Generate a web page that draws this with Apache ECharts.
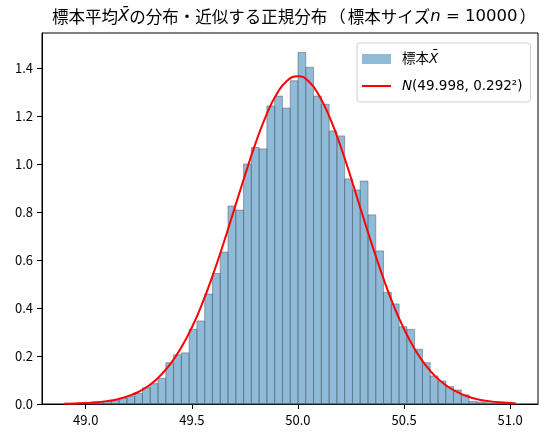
<!DOCTYPE html>
<html>
<head>
<meta charset="UTF-8">
<title>標本平均の分布</title>
<style>
  * { margin: 0; padding: 0; }
  body { background: #fff; }
  #chart { width: 546px; height: 437px; }
</style>
</head>
<body>
<div id="chart"></div>
<script src="https://cdn.jsdelivr.net/npm/echarts@6.0.0/dist/echarts.min.js"></script>
<script>
// ヒストグラム（58ビン、密度）
var binStart = 48.901;
var binWidth = 0.03664;
var density = [
  0.003, 0.003, 0.003, 0.005, 0.008, 0.011, 0.016, 0.025, 0.033, 0.044,
  0.068, 0.085, 0.107, 0.172, 0.205, 0.213, 0.311, 0.346, 0.458, 0.544,
  0.633, 0.825, 0.808, 1.000, 1.069, 1.063, 1.242, 1.283, 1.233, 1.347,
  1.465, 1.403, 1.283, 1.249, 1.138, 1.117, 0.938, 0.892, 0.929, 0.788,
  0.638, 0.465, 0.417, 0.322, 0.311, 0.228, 0.172, 0.117, 0.096, 0.072,
  0.058, 0.038, 0.011, 0.008, 0.005, 0.003, 0.003, 0.003
];

// 赤い曲線（図から読んだ点）
var curveX = [
  48.90, 48.95, 49.00, 49.05, 49.10, 49.15, 49.20, 49.25, 49.30, 49.35,
  49.40, 49.45, 49.50, 49.55, 49.60, 49.65, 49.70, 49.75, 49.80, 49.85,
  49.90, 49.95, 50.00, 50.05, 50.10, 50.15, 50.20, 50.25, 50.30, 50.35,
  50.40, 50.45, 50.50, 50.55, 50.60, 50.65, 50.70, 50.75, 50.80, 50.85,
  50.90, 50.95, 51.00, 51.025
];
var curveY = [
  0.001, 0.002, 0.004, 0.007, 0.012, 0.020, 0.033, 0.051, 0.078, 0.117,
  0.168, 0.235, 0.319, 0.421, 0.540, 0.672, 0.812, 0.952, 1.086, 1.202,
  1.292, 1.348, 1.366, 1.345, 1.285, 1.193, 1.076, 0.942, 0.800, 0.661,
  0.530, 0.412, 0.312, 0.229, 0.163, 0.113, 0.076, 0.050, 0.031, 0.019,
  0.012, 0.007, 0.004, 0.003
];

var xTicks = [49.0, 49.5, 50.0, 50.5, 51.0];
var yTicks = [0.0, 0.2, 0.4, 0.6, 0.8, 1.0, 1.2, 1.4];

var histName = '標本X̄';
var curveName = 'N(49.998, 0.292²)';

var histData = [];
for (var i = 0; i < density.length; i++) {
  var x0 = binStart + i * binWidth;
  histData.push([x0, x0 + binWidth, density[i]]);
}
var curveData = [];
for (var j = 0; j < curveX.length; j++) {
  curveData.push([curveX[j], curveY[j]]);
}

var chart = echarts.init(document.getElementById('chart'), null, { renderer: 'canvas' });

var option = {
  animation: false,
  backgroundColor: '#fff',
  title: {
    text: '標本平均{i|X̄}の分布・近似する正規分布{p|（}標本サイズ{i|n}{m| = 10000}{p|）}',
    left: 290,
    top: 3,
    textAlign: 'center',
    textStyle: {
      fontFamily: 'Noto Sans CJK JP',
      fontSize: 16.5,
      fontWeight: 'normal',
      color: '#000',
      rich: {
        i: { fontFamily: 'DejaVu Sans', fontStyle: 'italic', fontSize: 16.5, color: '#000' },
        m: { fontFamily: 'DejaVu Sans', fontSize: 16.5, color: '#000' },
        p: { fontFamily: 'Noto Sans CJK JP', fontSize: 16.5, color: '#000', padding: [0, 2, 0, 2] }
      }
    }
  },
  grid: {
    left: 42, right: 8, top: 33, bottom: 33,
    show: true,
    borderColor: '#000',
    borderWidth: 1
  },
  legend: {
    orient: 'vertical',
    left: 357,
    top: 43,
    padding: [9, 8, 9, 5],
    itemWidth: 29,
    itemHeight: 10,
    itemGap: 13,
    borderColor: '#d0d0d0',
    borderWidth: 1,
    borderRadius: 3,
    backgroundColor: 'rgba(255,255,255,0.8)',
    data: [
      { name: histName, icon: 'rect', itemStyle: { color: 'rgba(31,119,180,0.5)', borderWidth: 0 } },
      { name: curveName, icon: 'path://M0,0 L14,0 L14,1 L0,1 Z', itemStyle: { color: '#ff0000', borderWidth: 0 } }
    ],
    formatter: function (name) {
      if (name === histName) return '{g|}標本{i|X̄}';
      return '{g|}{i|N}(49.998, 0.292²)';
    },
    textStyle: {
      fontFamily: 'DejaVu Sans, Noto Sans CJK JP',
      fontSize: 13.5,
      color: '#000',
      rich: {
        g: { width: 6 },
        i: { fontFamily: 'DejaVu Sans', fontStyle: 'italic', fontSize: 13.5, color: '#000' }
      }
    }
  },
  xAxis: {
    type: 'value',
    min: 48.794,
    max: 51.131,
    splitLine: { show: false },
    axisLine: { show: true, onZero: false, lineStyle: { color: '#000', width: 1 } },
    axisTick: { show: true, length: 5, lineStyle: { color: '#000' }, customValues: xTicks },
    axisLabel: {
      customValues: xTicks,
      margin: 10,
      fontFamily: 'Noto Sans CJK JP',
      fontSize: 13,
      color: '#000',
      formatter: function (v) { return v.toFixed(1); }
    }
  },
  yAxis: {
    type: 'value',
    min: 0,
    max: 1.546,
    splitLine: { show: false },
    axisLine: { show: true, lineStyle: { color: '#000', width: 1 } },
    axisTick: { show: true, length: 5, lineStyle: { color: '#000' }, customValues: yTicks },
    axisLabel: {
      customValues: yTicks,
      margin: 9,
      fontFamily: 'Noto Sans CJK JP',
      fontSize: 13,
      color: '#000',
      formatter: function (v) { return v.toFixed(1); }
    }
  },
  series: [
    {
      name: histName,
      type: 'custom',
      data: histData,
      encode: { x: [0, 1], y: 2 },
      renderItem: function (params, api) {
        var p0 = api.coord([api.value(0), api.value(2)]);
        var p1 = api.coord([api.value(1), 0]);
        return {
          type: 'rect',
          shape: { x: p0[0], y: p0[1], width: p1[0] - p0[0], height: p1[1] - p0[1] },
          style: {
            fill: 'rgba(31,119,180,0.5)',
            stroke: 'rgba(90,100,110,0.55)',
            lineWidth: 1
          }
        };
      },
      z: 2
    },
    {
      name: curveName,
      type: 'line',
      data: curveData,
      smooth: true,
      symbol: 'none',
      lineStyle: { color: '#ff0000', width: 2 },
      itemStyle: { color: '#ff0000' },
      z: 3
    }
  ]
};

chart.setOption(option);
</script>
</body>
</html>
